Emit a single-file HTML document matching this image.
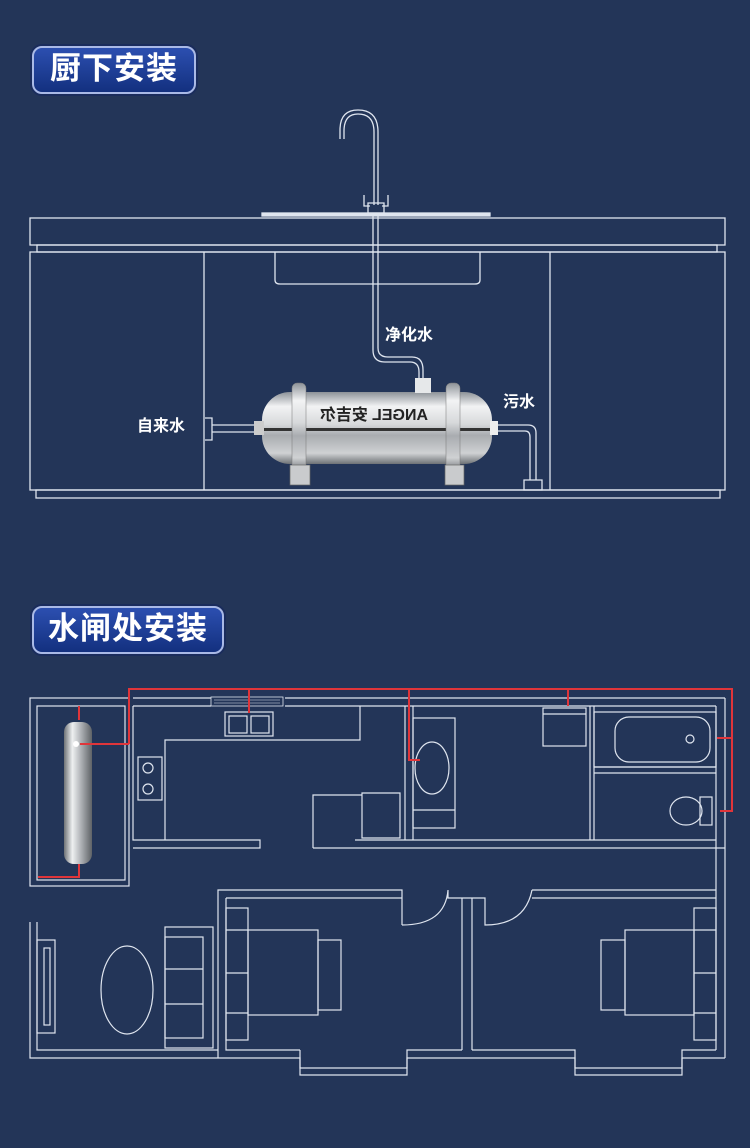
<!DOCTYPE html>
<html><head><meta charset="utf-8"><style>
html,body{margin:0;padding:0}
body{width:750px;height:1148px;background:#233558;overflow:hidden;position:relative;font-family:"Liberation Sans","Noto Sans CJK SC",sans-serif}
.badge{position:absolute;border-radius:10px;background:linear-gradient(180deg,#2c4fb0,#13307f);border:2px solid #a9b9e6;box-shadow:0 0 0 2px #1a2c5c;color:#fff;font-weight:bold;font-size:31px;line-height:42px;text-align:center;letter-spacing:1px}
svg{position:absolute;left:0;top:0}
</style></head><body>
<div class="badge" style="left:32px;top:46px;width:160px;height:44px">厨下安装</div>
<div class="badge" style="left:32px;top:606px;width:188px;height:44px">水闸处安装</div>
<svg width="750" height="1148" viewBox="0 0 750 1148">
<defs>
<linearGradient id="steel" x1="0" y1="0" x2="0" y2="1">
<stop offset="0" stop-color="#8d9298"/><stop offset="0.2" stop-color="#f2f3f4"/><stop offset="0.45" stop-color="#d7d9db"/><stop offset="0.6" stop-color="#a9acb0"/><stop offset="0.85" stop-color="#cfd1d3"/><stop offset="1" stop-color="#6e7276"/>
</linearGradient>
<linearGradient id="steelv" x1="0" y1="0" x2="1" y2="0">
<stop offset="0" stop-color="#6e7276"/><stop offset="0.3" stop-color="#eef0f1"/><stop offset="0.6" stop-color="#b0b3b7"/><stop offset="1" stop-color="#5e6266"/>
</linearGradient>
</defs>
<g fill="none" stroke="#dfe5ef" stroke-width="1.3">
<!-- kitchen counter -->
<rect x="30" y="218" width="695" height="27"/>
<rect x="37" y="245" width="680" height="7"/>
<rect x="30" y="252" width="695" height="238"/>
<rect x="36" y="490" width="684" height="8"/>
<line x1="204" y1="252" x2="204" y2="490"/>
<line x1="550" y1="252" x2="550" y2="490"/>
<path d="M275 252 V280 Q275 284 280 284 H475 Q480 284 480 280 V252"/>
<rect x="262" y="213" width="228" height="3" fill="#dfe5ef"/>
<!-- faucet -->
<path d="M340 139 V130 Q340 110 358 110 Q378 110 378 132 V205" stroke-width="1.3"/>
<path d="M344 139 V131 Q344 114 358 114 Q374 114 374 132 V205"/>
<path d="M364 195 V206 H370 M388 195 V206 H382 M368 203 H384 V213 H368 Z"/>
<path d="M373 213 V350 Q373 362 385 362 H410 Q419 362 419 372 V380"/>
<path d="M378 213 V348 Q378 357 388 357 H412 Q423 357 423 370 V380"/>
<!-- inlet -->
<path d="M205 418 H212 V440 H205"/>
<path d="M212 425 H262 M212 432 H262"/>
<!-- drain -->
<path d="M492 425 H528 Q536 425 536 433 V480 M492 431 H525 Q530 431 530 437 V480"/>
<path d="M524 480 H542 V490 H524 Z"/>
</g>
<!-- filter -->
<rect x="262" y="392" width="230" height="72" rx="28" fill="url(#steel)"/>
<rect x="262" y="428" width="230" height="3" fill="#333"/>
<rect x="292" y="383" width="14" height="88" rx="5" fill="url(#steel)" stroke="#777" stroke-width="0.5"/>
<rect x="446" y="383" width="14" height="88" rx="5" fill="url(#steel)" stroke="#777" stroke-width="0.5"/>
<rect x="415" y="378" width="16" height="15" fill="#e6e8ea"/>
<rect x="254" y="421" width="10" height="14" fill="#ccc"/>
<rect x="490" y="421" width="8" height="14" fill="#eee"/>
<rect x="290" y="465" width="20" height="20" fill="#c9cbcd" stroke="#666" stroke-width="0.7"/>
<rect x="445" y="465" width="19" height="20" fill="#c9cbcd" stroke="#666" stroke-width="0.7"/>
<text x="-428" y="420" transform="scale(-1,1)" font-size="16" font-weight="bold" fill="#222" font-family="Liberation Sans, Noto Sans CJK SC, sans-serif">ANGEL 安吉尔</text>
<g fill="#fff" font-size="16" font-weight="bold" font-family="Liberation Sans, Noto Sans CJK SC, sans-serif">
<text x="385" y="340">净化水</text>
<text x="137" y="431">自来水</text>
<text x="503" y="407">污水</text>
</g>

<!-- floor plan -->
<g fill="none" stroke="#dfe5ef" stroke-width="1.2">
<rect x="30" y="698" width="99" height="188"/>
<rect x="37" y="706" width="88" height="174"/>
<path d="M133 698 H211 M133 706 H211 M285 698 H725 M285 706 H716"/>
<rect x="211" y="697" width="72" height="9" stroke-width="0.8"/>
<path d="M214 700 H280 M214 703 H280" stroke-width="0.6"/>
<path d="M133 706 V840 H260 V848 H133"/>
<path d="M165 840 V740 H360 V706"/>
<rect x="138" y="757" width="24" height="43"/>
<circle cx="148" cy="768" r="5"/><circle cx="148" cy="789" r="5"/>
<rect x="225" y="712" width="48" height="24"/>
<rect x="229" y="716" width="18" height="17"/><rect x="251" y="716" width="18" height="17"/>
<path d="M405 706 V840 M413 706 V840"/>
<path d="M313 848 V795 H362 M362 793 H400 V838 H362 Z M313 848 H725 M355 840 H716"/>
<rect x="413" y="718" width="42" height="110"/>
<path d="M413 810 H455"/>
<ellipse cx="432" cy="768" rx="17" ry="26"/>
<rect x="543" y="708" width="43" height="38"/>
<path d="M543 714 H586"/>
<path d="M590 706 V840 M594 706 V840"/>
<rect x="594" y="712" width="122" height="55"/>
<rect x="615" y="717" width="95" height="45" rx="14"/>
<circle cx="690" cy="739" r="4"/>
<path d="M594 767 H716 M594 773 H716"/>
<path d="M716 706 V1050 M725 698 V1058"/>
<ellipse cx="686" cy="811" rx="16" ry="14"/>
<rect x="700" y="797" width="12" height="28"/>
<!-- lower rooms -->
<path d="M218 1058 V890 H402 V925 M402 925 Q445 925 448 890 M448 890 V898 H485 V925 Q525 925 532 890 M532 890 H716 M226 898 H402 M532 898 H716"/>
<path d="M462 898 V1050 M472 898 V1050"/>
<path d="M30 922 V1058 H300 V1075 H407 V1058 H575 V1075 H682 V1058 H725"/>
<path d="M37 922 V1050 H218 M226 898 V1050 H300 M300 1050 V1068 H407 V1050 H462 M472 1050 H575 V1068 H682 V1050 H716"/>
<rect x="37" y="940" width="18" height="93"/>
<rect x="44" y="948" width="6" height="77"/>
<ellipse cx="127" cy="990" rx="26" ry="44"/>
<rect x="165" y="927" width="48" height="121"/>
<rect x="165" y="937" width="38" height="101"/>
<path d="M165 969 H203 M165 1004 H203"/>
<rect x="226" y="908" width="22" height="132"/>
<path d="M226 930 H248 M226 973 H248 M226 1013 H248"/>
<rect x="248" y="930" width="70" height="85"/>
<rect x="318" y="940" width="23" height="70"/>
<rect x="694" y="908" width="22" height="132"/>
<path d="M694 930 H716 M694 973 H716 M694 1013 H716"/>
<rect x="625" y="930" width="69" height="85"/>
<rect x="601" y="940" width="24" height="70"/>
</g>
<!-- filter vertical -->
<rect x="64" y="722" width="28" height="142" rx="10" fill="url(#steelv)"/>
<circle cx="76" cy="744" r="3" fill="#fff"/>
<!-- red pipes -->
<g fill="none" stroke="#e0353a" stroke-width="2">
<path d="M129 744 V689 H732 V811 H720 M732 738 H717"/>
<path d="M80 744 H129"/>
<path d="M249 689 V713"/>
<path d="M409 689 V760 H420"/>
<path d="M568 689 V706"/>
<path d="M79 706 V720"/>
<path d="M38 877 H79 V864"/>
</g>
</svg>
</body></html>
